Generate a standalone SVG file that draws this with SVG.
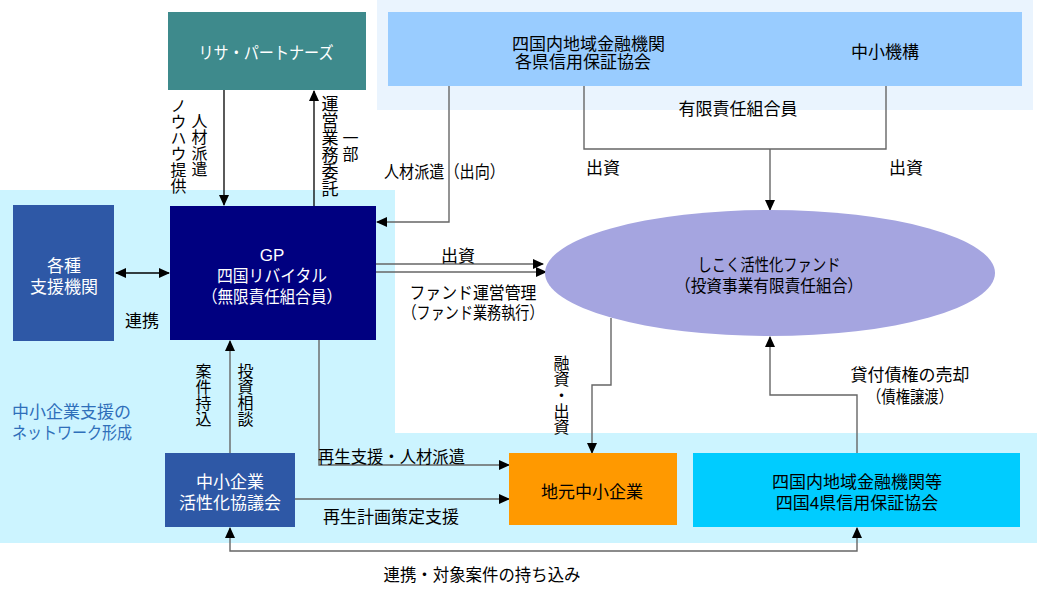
<svg xmlns="http://www.w3.org/2000/svg" width="1037" height="595" viewBox="0 0 1037 595">
<defs>
<marker id="ah" markerUnits="userSpaceOnUse" markerWidth="12" markerHeight="10" refX="10" refY="5" orient="auto-start-reverse" viewBox="0 0 12 10">
<path d="M0,0 L11,5 L0,10 Z" fill="#000"/>
</marker>
<style>
text{font-family:"Liberation Sans","Noto Sans CJK JP",sans-serif;font-size:17px;fill:#000}
.c{text-anchor:middle}
.w{fill:#fff}
.v{writing-mode:vertical-rl;text-orientation:upright;font-size:16px}
.ln{fill:none;stroke:#666;stroke-width:1.4}
.bk{fill:none;stroke:#000;stroke-width:1.3}
.net{fill:#2F6FBA}
</style>
</defs>
<rect width="1037" height="595" fill="#fff"/>
<g id="regions">
<rect x="377" y="0" width="656" height="110" fill="#EAF4FE"/>
<path d="M0,190 H395 V433 H1037 V543 H0 Z" fill="#CCF4FF"/>
</g>
<g id="connectors">
<path class="bk" d="M224,90 V205" marker-end="url(#ah)"/>
<path class="bk" d="M314,206 V91" marker-end="url(#ah)"/>
<path class="ln" d="M449,86 V222 H377" marker-end="url(#ah)"/>
<path class="ln" d="M584,86 V149 H886 V86"/>
<path class="ln" d="M770,149 V210" marker-end="url(#ah)"/>
<path class="bk" d="M116,273 H169" marker-start="url(#ah)" marker-end="url(#ah)"/>
<path class="ln" d="M376,264 H543" marker-end="url(#ah)"/>
<path class="ln" d="M376,272 H546" marker-end="url(#ah)"/>
<path class="ln" d="M611,318 V385 H592 V453" marker-end="url(#ah)"/>
<path class="ln" d="M857,453 V395 H770 V337" marker-end="url(#ah)"/>
<path class="ln" d="M230,453 V341" marker-end="url(#ah)"/>
<path class="ln" d="M319,340 V465 H509" marker-end="url(#ah)"/>
<path class="ln" d="M295,499 H509" marker-end="url(#ah)"/>
<path class="ln" d="M230,528 V551 H857 V528" marker-start="url(#ah)" marker-end="url(#ah)"/>
</g>
<g id="risa">
<rect x="168" y="12" width="198" height="78" fill="#3E8A8C"/>
<text class="c w" x="266" y="59" textLength="135" lengthAdjust="spacingAndGlyphs">リサ・パートナーズ</text>
</g>
<g id="members">
<rect x="388" y="12" width="634" height="74" fill="#99CCFF"/>
<text x="512" y="50">四国内地域金融機関</text>
<text x="515" y="68">各県信用保証協会</text>
<text class="c" x="885" y="58">中小機構</text>
</g>
<g id="gp">
<rect x="170" y="206" width="206" height="134" fill="#000080"/>
<text class="c w" x="272" y="261">GP</text>
<text class="c w" x="272" y="282" textLength="110" lengthAdjust="spacingAndGlyphs">四国リバイタル</text>
<text class="c w" x="272" y="303" textLength="140" lengthAdjust="spacingAndGlyphs">（無限責任組合員）</text>
</g>
<g id="kakushu">
<rect x="13" y="205" width="101" height="136" fill="#2E58A6"/>
<text class="c w" x="64" y="272">各種</text>
<text class="c w" x="64" y="293">支援機関</text>
</g>
<g id="fund">
<ellipse cx="770" cy="273" rx="225" ry="63" fill="#A5A5E0"/>
<text class="c" x="769" y="271" textLength="143" lengthAdjust="spacingAndGlyphs">しこく活性化ファンド</text>
<text class="c" x="769" y="292" textLength="188" lengthAdjust="spacingAndGlyphs">（投資事業有限責任組合）</text>
</g>
<g id="kyogikai">
<rect x="165" y="453" width="130" height="74" fill="#2E58A6"/>
<text class="c w" x="230" y="488">中小企業</text>
<text class="c w" x="230" y="509">活性化協議会</text>
</g>
<g id="jimoto">
<rect x="509" y="453" width="168" height="72" fill="#FF9900"/>
<text class="c" x="592" y="498">地元中小企業</text>
</g>
<g id="shikoku">
<rect x="693" y="453" width="327" height="74" fill="#00CCFF"/>
<text class="c" x="857" y="488">四国内地域金融機関等</text>
<text class="c" x="857" y="509">四国4県信用保証協会</text>
</g>
<g id="labels">
<text class="v" x="177" y="98">ノウハウ提供</text>
<text class="v" x="198" y="113">人材派遣</text>
<text class="v" x="328" y="95" style="font-size:17px">運営業務委託</text>
<text class="v" x="349" y="130">一部</text>
<text class="c" x="738" y="115">有限責任組合員</text>
<text x="586" y="174">出資</text>
<text x="889" y="174">出資</text>
<text x="384" y="178" textLength="121" lengthAdjust="spacingAndGlyphs">人材派遣（出向）</text>
<text class="c" x="458" y="262">出資</text>
<text class="c" x="473" y="299" textLength="127" lengthAdjust="spacingAndGlyphs">ファンド運営管理</text>
<text class="c" x="473" y="319" textLength="141" lengthAdjust="spacingAndGlyphs">（ファンド業務執行）</text>
<text x="125" y="327">連携</text>
<text class="v" x="560" y="355">融資・出資</text>
<text class="c" x="910" y="381">貸付債権の売却</text>
<text class="c" x="910" y="403" textLength="86" lengthAdjust="spacingAndGlyphs">（債権譲渡）</text>
<text class="v" x="202" y="363">案件持込</text>
<text class="v" x="244" y="363">投資相談</text>
<text class="net" x="12" y="418">中小企業支援の</text>
<text class="net" x="12" y="439" textLength="120" lengthAdjust="spacingAndGlyphs">ネットワーク形成</text>
<text x="318" y="463" textLength="147" lengthAdjust="spacingAndGlyphs">再生支援・人材派遣</text>
<text class="c" x="391" y="523">再生計画策定支援</text>
<text class="c" x="482" y="581" textLength="197" lengthAdjust="spacingAndGlyphs">連携・対象案件の持ち込み</text>
</g>
</svg>
